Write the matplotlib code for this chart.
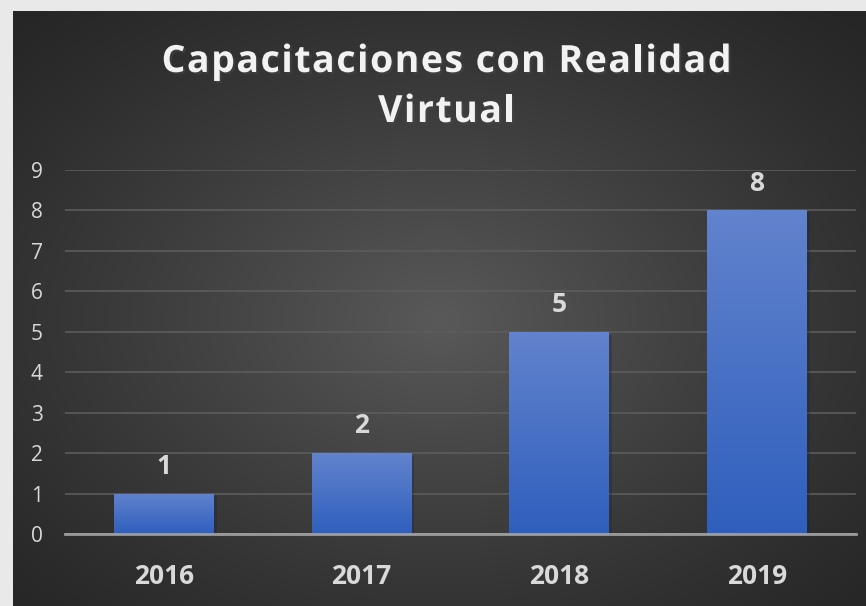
import numpy as np
import matplotlib
matplotlib.use("Agg")
import matplotlib.pyplot as plt
import matplotlib.patheffects as pe
from matplotlib.colors import LinearSegmentedColormap

# data
years = ["2016", "2017", "2018", "2019"]
capacitaciones = [1, 2, 5, 8]
y_ticks = list(range(0, 10))
title_lines = ["Capacitaciones con Realidad", "Virtual"]

plt.rcParams['font.family'] = ['Open Sans', 'DejaVu Sans']

fig = plt.figure(figsize=(8.66, 6.06), dpi=100)
fig.patch.set_facecolor("#e9e9e9")

# dark radial background panel
bg = fig.add_axes([13 / 866, 0, 853 / 866, 595 / 606])
bg.set_axis_off()
yy, xx = np.mgrid[0:1:300j, 0:1:430j]
r = np.sqrt(((xx - 0.5) / 0.75) ** 2 + ((yy - 0.52) / 0.75) ** 2)
shade = np.clip(1 - r / 0.95, 0, 1)
dark, light = np.array([0.15, 0.15, 0.15]), np.array([0.35, 0.35, 0.35])
img = dark + (light - dark) * shade[..., None] ** 1.2
bg.imshow(img, aspect="auto", extent=[0, 1, 0, 1], interpolation="bilinear")
bg.set_xlim(0, 1)
bg.set_ylim(0, 1)

ax = fig.add_axes([65 / 866, 72 / 606, 791 / 866, 364 / 606])
ax.patch.set_alpha(0)

x = np.arange(len(years))
bars = ax.bar(x, capacitaciones, width=0.505, color="#4a72c8", zorder=2,
              path_effects=[pe.SimplePatchShadow(offset=(2, -2), alpha=0.3), pe.Normal()])

# vertical gradient inside each bar
cmap = LinearSegmentedColormap.from_list("barg", ["#2f5fbd", "#6283cd"])
grad = np.linspace(0, 1, 256).reshape(-1, 1)
for b in bars:
    x0, y0 = b.get_x(), b.get_y()
    im = ax.imshow(grad, cmap=cmap, aspect="auto", origin="lower",
                   extent=[x0, x0 + b.get_width(), y0, y0 + b.get_height()], zorder=2.5)
    im.set_clip_path(b)

ax.bar_label(bars, padding=10, color="#d9d9d9", fontsize=19, fontweight="bold")

ax.set_xlim(-0.5, len(years) - 0.5)
ax.set_ylim(0, 9)
ax.set_yticks(y_ticks)
ax.set_xticks(x)
ax.set_xticklabels(years)
ax.grid(axis="y", color="#5c5c5c", linewidth=1.2, zorder=1)
ax.set_axisbelow(True)
for s in ["top", "right", "left"]:
    ax.spines[s].set_visible(False)
ax.spines["bottom"].set_color("#b5b5b5")
ax.spines["bottom"].set_alpha(0.8)
ax.spines["bottom"].set_linewidth(2)
ax.spines["bottom"].set_zorder(3)
ax.tick_params(axis="y", length=0, pad=16, labelsize=15, labelcolor="#d9d9d9")
ax.tick_params(axis="x", length=0, pad=21, labelsize=19, labelcolor="#d9d9d9")
for t in ax.get_xticklabels():
    t.set_fontweight("bold")

# title with letter spacing, drawn character by character
renderer = fig.canvas.get_renderer()
title_kw = dict(fontsize=27, fontweight="bold", color="#f2f2f2", va="baseline", ha="left",
                path_effects=[pe.withSimplePatchShadow(offset=(1.5, -1.5), alpha=0.5)])
spacing = 1.5  # extra pixels between letters
center_x = 446.5
baselines = [72, 122]


def char_width(ch):
    a = fig.text(0, 0, "H" + ch + "H", **title_kw)
    b = fig.text(0, 0, "HH", **title_kw)
    w = a.get_window_extent(renderer).width - b.get_window_extent(renderer).width
    a.remove()
    b.remove()
    return w


for line, base in zip(title_lines, baselines):
    widths = [char_width(c) for c in line]
    total = sum(widths) + spacing * (len(line) - 1)
    xpos = center_x - total / 2
    for c, w in zip(line, widths):
        if c != " ":
            fig.text(xpos / 866, (606 - base) / 606, c, **title_kw)
        xpos += w + spacing

fig.savefig("out.png", dpi=100, facecolor=fig.get_facecolor())
